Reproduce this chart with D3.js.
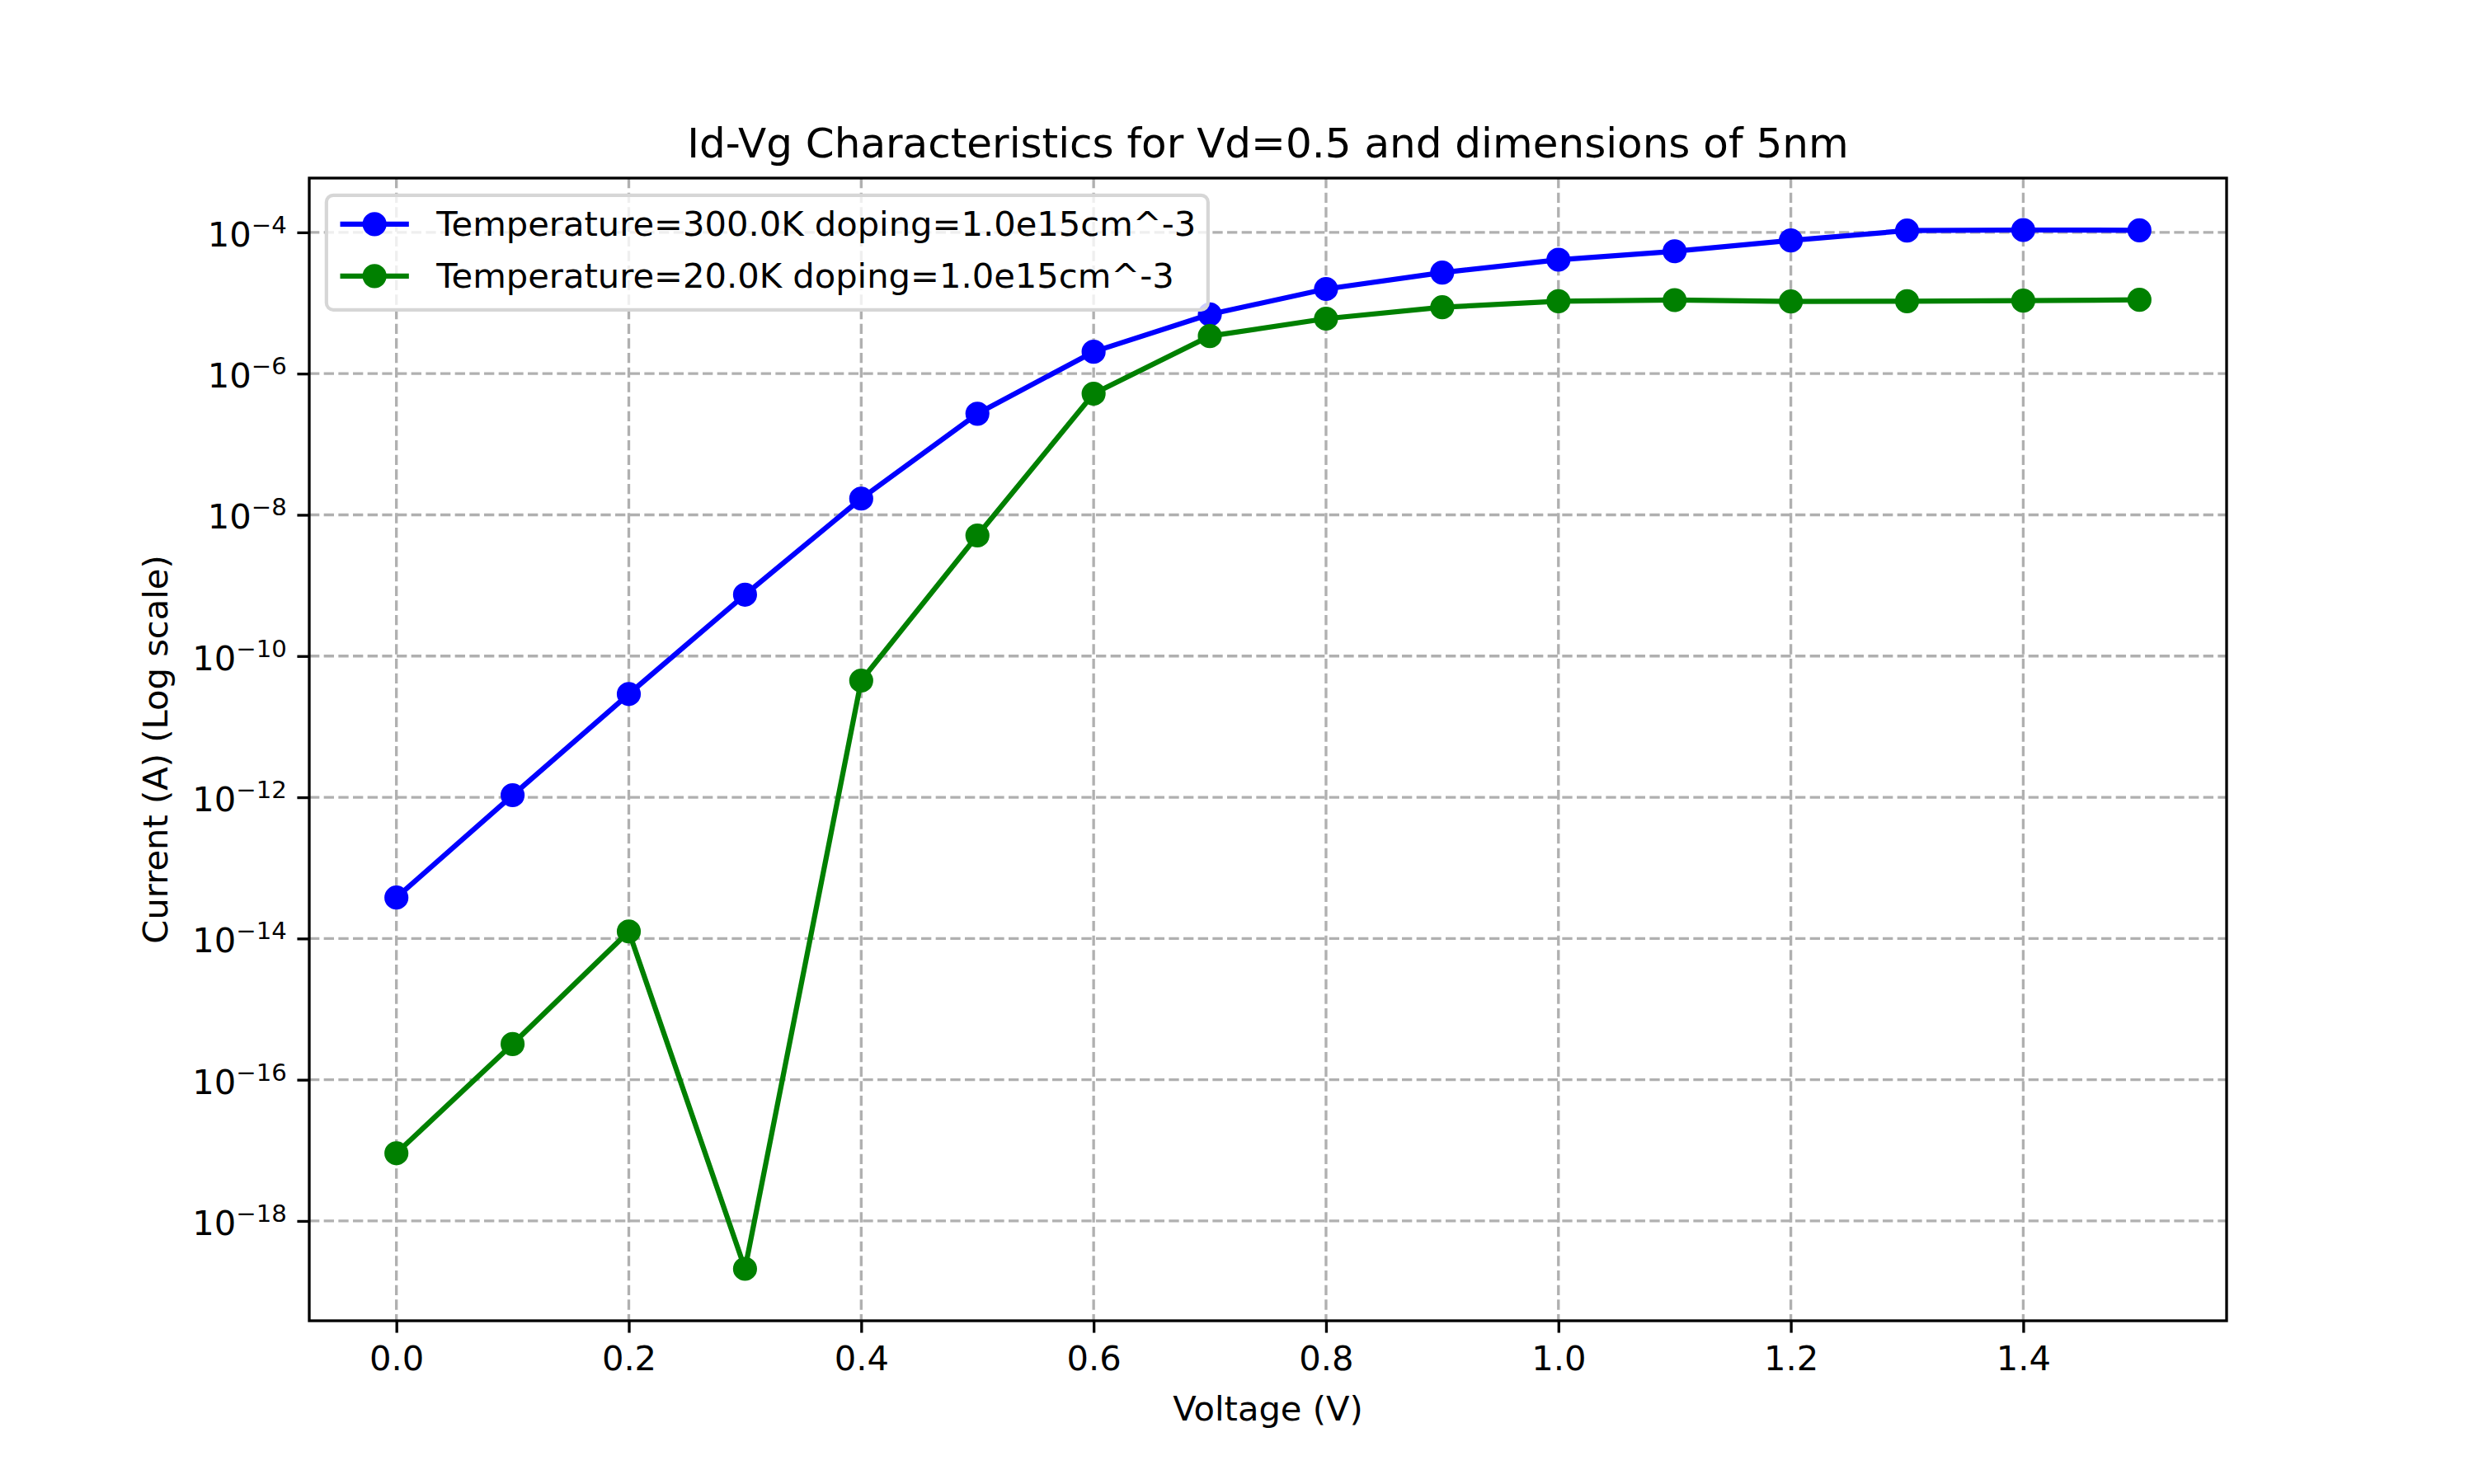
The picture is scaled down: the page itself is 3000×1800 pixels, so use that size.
<!DOCTYPE html>
<html>
<head>
<meta charset="utf-8">
<script src="https://cdn.jsdelivr.net/npm/d3@7"></script>
<style>
	html, body { margin: 0; padding: 0; background: #fff; }
	svg { display: block; }
	text { font-family: 'DejaVu Sans', sans-serif; fill: #000; }
</style>
</head>
<body>
<div id="chart"></div>
<script>
// Gate voltage sweep (V)
const voltage = [0.0, 0.1, 0.2, 0.3, 0.4, 0.5, 0.6, 0.7, 0.8, 0.9, 1.0, 1.1, 1.2, 1.3, 1.4, 1.5]

// Drain current (A)
const current300K = [
	3.8e-14, 1.07e-12, 2.9e-11, 7.4e-10, 1.7e-8, 2.7e-7, 2.04e-6, 6.9e-6,
	1.58e-5, 2.7e-5, 4.1e-5, 5.4e-5, 7.7e-5, 1.06e-4, 1.08e-4, 1.07e-4,
]
const current20K = [
	9.1e-18, 3.2e-16, 1.26e-14, 2.1e-19, 4.5e-11, 5.1e-9, 5.2e-7, 3.4e-6,
	6.0e-6, 8.7e-6, 1.06e-5, 1.1e-5, 1.05e-5, 1.06e-5, 1.08e-5, 1.11e-5,
]

const seriesLabels = [
	'Temperature=300.0K doping=1.0e15cm^-3',
	'Temperature=20.0K doping=1.0e15cm^-3',
]
const seriesColors = ['#0000ff', '#008000']

const xTicks = [0.0, 0.2, 0.4, 0.6, 0.8, 1.0, 1.2, 1.4]
const yTickExponents = [-4, -6, -8, -10, -12, -14, -16, -18]

const titleText = 'Id-Vg Characteristics for Vd=0.5 and dimensions of 5nm'
const xLabelText = 'Voltage (V)'
const yLabelText = 'Current (A) (Log scale)'

// matplotlib defaults at 300 dpi: 1pt = 300/72 px
const pt = 300 / 72
const width = 3000
const height = 1800
const margin = { top: 216, bottom: 198, left: 375, right: 300 }
const fontSize = 10 * pt
const tickLen = 3.5 * pt
const tickPad = 3.5 * pt

const series = [current300K, current20K].map((values, i) => ({
	label: seriesLabels[i],
	color: seriesColors[i],
	points: voltage.map((v, j) => ({ x: v, y: values[j] })),
}))

const svg = d3
	.select('#chart')
	.append('svg')
	.attr('width', width)
	.attr('height', height)

const plotLeft = margin.left
const plotRight = width - margin.right
const plotTop = margin.top
const plotBottom = height - margin.bottom

// 5% autoscale margins, like matplotlib
const [xMin, xMax] = d3.extent(voltage)
const xPad = (xMax - xMin) * 0.05
const x = d3
	.scaleLinear()
	.domain([xMin - xPad, xMax + xPad])
	.range([plotLeft, plotRight])

const allCurrents = current300K.concat(current20K)
const logMin = Math.log10(d3.min(allCurrents))
const logMax = Math.log10(d3.max(allCurrents))
const logPad = (logMax - logMin) * 0.05
const y = d3
	.scaleLog()
	.domain([Math.pow(10, logMin - logPad), Math.pow(10, logMax + logPad)])
	.range([plotBottom, plotTop])

const yTicks = yTickExponents.map((e) => Math.pow(10, e))

// Grid
const grid = svg.append('g').attr('class', 'grid')
grid
	.selectAll('.grid__x')
	.data(xTicks)
	.enter()
	.append('line')
	.attr('x1', (d) => x(d))
	.attr('x2', (d) => x(d))
	.attr('y1', plotTop)
	.attr('y2', plotBottom)
grid
	.selectAll('.grid__y')
	.data(yTicks)
	.enter()
	.append('line')
	.attr('x1', plotLeft)
	.attr('x2', plotRight)
	.attr('y1', (d) => y(d))
	.attr('y2', (d) => y(d))
grid
	.selectAll('line')
	.attr('stroke', '#b0b0b0')
	.attr('stroke-width', 0.8 * pt)
	.attr('stroke-dasharray', `${3.7 * 0.8 * pt},${1.6 * 0.8 * pt}`)

// Axes
const xAxis = d3
	.axisBottom(x)
	.tickValues(xTicks)
	.tickSize(tickLen)
	.tickPadding(tickPad)
	.tickFormat(d3.format('.1f'))

const xAxisG = svg
	.append('g')
	.attr('transform', `translate(0,${plotBottom})`)
	.call(xAxis)
xAxisG.select('.domain').remove()
xAxisG.selectAll('.tick line').attr('stroke', '#000').attr('stroke-width', 0.8 * pt)
xAxisG
	.selectAll('.tick text')
	.attr('font-size', fontSize)
	.attr('font-family', 'DejaVu Sans')
	.attr('fill', '#000')
	.attr('dy', null)
	.attr('y', tickLen + tickPad + 0.73 * fontSize)

const yAxis = d3
	.axisLeft(y)
	.tickValues(yTicks)
	.tickSize(tickLen)
	.tickPadding(tickPad)
	.tickFormat(() => '')

const yAxisG = svg
	.append('g')
	.attr('transform', `translate(${plotLeft},0)`)
	.call(yAxis)
yAxisG.select('.domain').remove()
yAxisG.selectAll('.tick line').attr('stroke', '#000').attr('stroke-width', 0.8 * pt)

// Mathtext-like 10^{-n} tick labels
const yLabels = yAxisG
	.selectAll('.tick text')
	.attr('font-size', fontSize)
	.attr('font-family', 'DejaVu Sans')
	.attr('fill', '#000')
	.attr('text-anchor', 'end')
	.attr('x', -(tickLen + tickPad) + 2)
	.attr('dy', null)
	.attr('y', 16.4)
yLabels.each(function (d) {
	const t = d3.select(this)
	const exp = Math.round(Math.log10(d))
	t.append('tspan').text('10')
	t.append('tspan')
		.attr('font-size', fontSize * 0.7)
		.attr('dy', -16)
		.text(`\u2212${Math.abs(exp)}`)
})

// Series lines and markers
const line = d3
	.line()
	.x((d) => x(d.x))
	.y((d) => y(d.y))

const seriesG = svg
	.selectAll('.series')
	.data(series)
	.enter()
	.append('g')
	.attr('class', 'series')

seriesG
	.append('path')
	.attr('d', (d) => line(d.points))
	.attr('fill', 'none')
	.attr('stroke', (d) => d.color)
	.attr('stroke-width', 1.5 * pt)
	.attr('stroke-linejoin', 'round')

seriesG
	.selectAll('circle')
	.data((d) => d.points.map((p) => ({ ...p, color: d.color })))
	.enter()
	.append('circle')
	.attr('cx', (d) => x(d.x))
	.attr('cy', (d) => y(d.y))
	.attr('r', 3 * pt)
	.attr('fill', (d) => d.color)
	.attr('stroke', (d) => d.color)
	.attr('stroke-width', 1 * pt)

// Spines
svg
	.append('rect')
	.attr('x', plotLeft)
	.attr('y', plotTop)
	.attr('width', plotRight - plotLeft)
	.attr('height', plotBottom - plotTop)
	.attr('fill', 'none')
	.attr('stroke', '#000')
	.attr('stroke-width', 0.8 * pt)

// Legend
const legendX = plotLeft + 0.5 * fontSize
const legendY = plotTop + 0.5 * fontSize
const rowStep = 63
const legend = svg.append('g').attr('transform', `translate(${legendX},${legendY})`)

legend
	.append('rect')
	.attr('x', 0)
	.attr('y', 0)
	.attr('width', 1069)
	.attr('height', 139)
	.attr('rx', 0.2 * fontSize)
	.attr('ry', 0.2 * fontSize)
	.attr('fill', 'rgba(255,255,255,0.8)')
	.attr('stroke', '#d6d6d6')
	.attr('stroke-width', 1 * pt)

const legendItems = legend
	.selectAll('.legend__item')
	.data(series)
	.enter()
	.append('g')
	.attr('class', 'legend__item')
	.attr('transform', (d, i) => `translate(${0.4 * fontSize},${35 + i * rowStep})`)

legendItems
	.append('line')
	.attr('x1', 0)
	.attr('x2', 2 * fontSize)
	.attr('y1', 0)
	.attr('y2', 0)
	.attr('stroke', (d) => d.color)
	.attr('stroke-width', 1.5 * pt)

legendItems
	.append('circle')
	.attr('cx', fontSize)
	.attr('cy', 0)
	.attr('r', 3 * pt)
	.attr('fill', (d) => d.color)
	.attr('stroke', (d) => d.color)
	.attr('stroke-width', 1 * pt)

legendItems
	.append('text')
	.attr('x', 2.8 * fontSize)
	.attr('y', 14.5)
	.attr('font-size', fontSize)
	.text((d) => d.label)

// Title and axis labels
svg
	.append('text')
	.attr('x', (plotLeft + plotRight) / 2)
	.attr('y', plotTop - 6 * pt)
	.attr('text-anchor', 'middle')
	.attr('font-size', 12 * pt)
	.text(titleText)

svg
	.append('text')
	.attr('x', (plotLeft + plotRight) / 2)
	.attr('y', 1723)
	.attr('text-anchor', 'middle')
	.attr('font-size', fontSize)
	.text(xLabelText)

svg
	.append('text')
	.attr('transform', `translate(203,${(plotTop + plotBottom) / 2}) rotate(-90)`)
	.attr('text-anchor', 'middle')
	.attr('font-size', fontSize)
	.text(yLabelText)
</script>
</body>
</html>
